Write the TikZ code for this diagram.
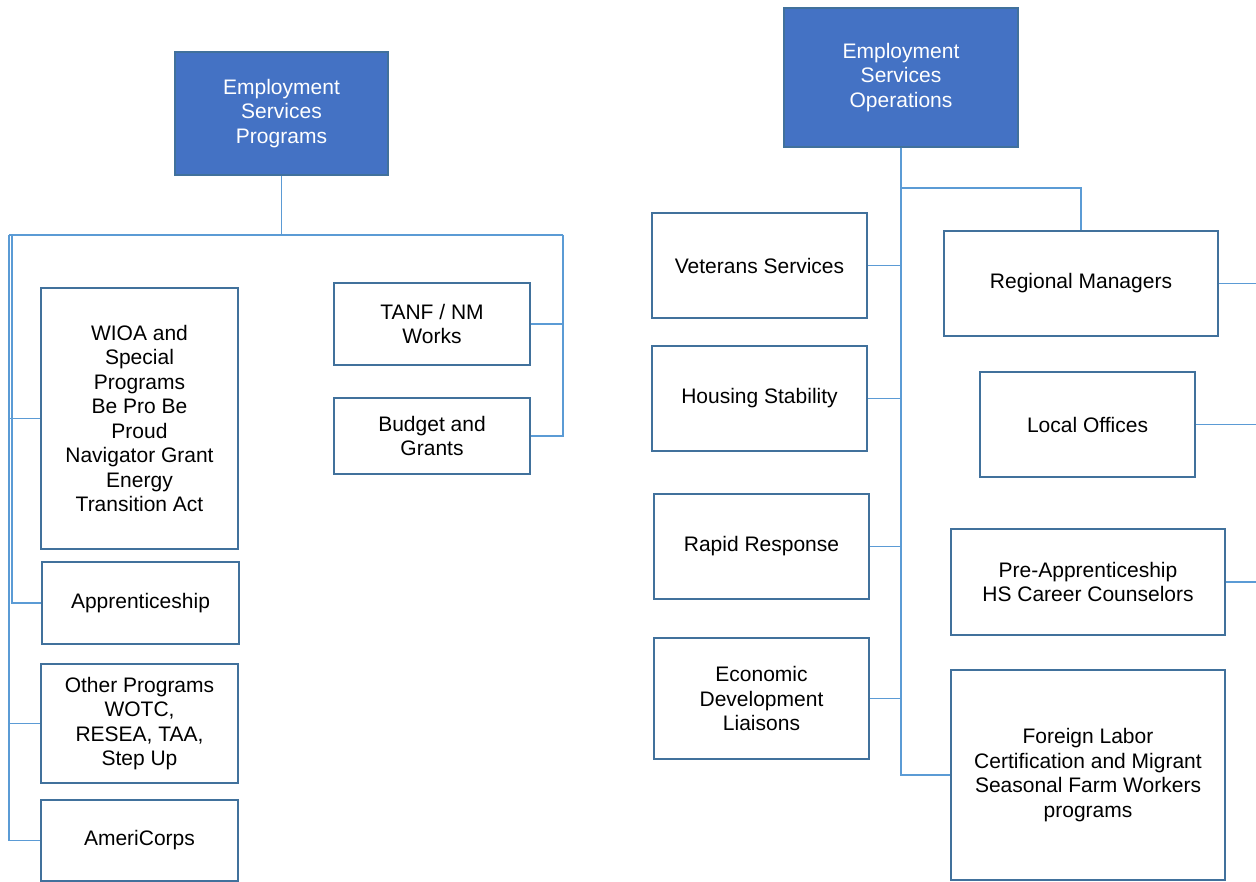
\documentclass[tikz,border=0pt]{standalone}
\usepackage{fontspec}
\setmainfont{Liberation Sans}
\usepackage{xcolor}
\usepackage{tikz}
\usetikzlibrary{positioning}

\definecolor{headblue}{HTML}{4472C4}
\definecolor{rimblue}{HTML}{41719C}
\definecolor{linkblue}{HTML}{5B9BD5}

\begin{document}
\begin{tikzpicture}[
    x=1pt, y=-1pt,
    head/.style={rectangle, draw=rimblue, fill=headblue, line width=1.5pt, text=white, align=center, inner sep=0pt, font=\fontsize{21}{24.5}\selectfont},
    unit/.style={rectangle, draw=rimblue, fill=white, line width=2.5pt, align=center, inner sep=0pt, font=\fontsize{21}{24.5}\selectfont},
    link/.style={draw=linkblue, line width=1.5pt}
    ]
    \useasboundingbox (0,0) rectangle (1256,882);

    % left side
    \node[head, minimum width=213pt, minimum height=123pt] (esp) at (281.5,113.5) {Employment\\Services\\Programs};

    \node[unit, minimum width=197pt, minimum height=261pt] (wioa) at (139.5,418.5) {WIOA and\\Special\\Programs\\Be Pro Be\\Proud\\Navigator Grant\\Energy\\Transition Act};
    \node[unit, minimum width=197pt, minimum height=82pt] (appr) at (140.5,603) {Apprenticeship};
    \node[unit, minimum width=197pt, minimum height=119pt] (other) at (139.5,723.5) {Other Programs\\WOTC,\\RESEA, TAA,\\Step Up};
    \node[unit, minimum width=197pt, minimum height=81pt] (ameri) at (139.5,840.5) {AmeriCorps};

    \node[unit, minimum width=196pt, minimum height=82pt] (tanf) at (432,324) {TANF / NM\\Works};
    \node[unit, minimum width=196pt, minimum height=76pt] (budget) at (432,436) {Budget and\\Grants};

    \coordinate (lspine) at (9,235);
    \coordinate (rspine) at (563,235);
    \draw[link] (esp.south) |- (lspine);
    \draw[link] (esp.south) |- (rspine);
    \draw[link] (lspine) |- (wioa.west);
    \draw[link] (lspine) |- (other.west);
    \draw[link] (lspine) |- (ameri.west);
    \draw[link] (lspine) ++(3,0) |- (appr.west);
    \draw[link] (rspine) |- (tanf.east);
    \draw[link] (rspine) |- (budget.east);

    % right side
    \node[head, minimum width=234pt, minimum height=139pt] (eso) at (901,77.5) {Employment\\Services\\Operations};

    \node[unit, minimum width=215pt, minimum height=105pt] (vet) at (759.5,265.5) {Veterans Services};
    \node[unit, minimum width=215pt, minimum height=105pt] (house) at (759.5,398.5) {Housing Stability};
    \node[unit, minimum width=215pt, minimum height=105pt] (rapid) at (761.5,546.5) {Rapid Response};
    \node[unit, minimum width=215pt, minimum height=121pt] (econ) at (761.5,698.5) {Economic\\Development\\Liaisons};

    \node[unit, minimum width=274pt, minimum height=105pt] (region) at (1081,283.5) {Regional Managers};
    \node[unit, minimum width=215pt, minimum height=105pt] (local) at (1087.5,424.5) {Local Offices};
    \node[unit, minimum width=274pt, minimum height=106pt] (preapp) at (1088,582) {Pre-Apprenticeship\\HS Career Counselors};
    \node[unit, minimum width=274pt, minimum height=210pt] (foreign) at (1088,775) {Foreign Labor\\Certification and Migrant\\Seasonal Farm Workers\\programs};

    \coordinate (rmtop) at (901,188);
    \coordinate (rim) at (1256,0);
    \draw[link] (eso.south) |- (vet.east);
    \draw[link] (eso.south) |- (house.east);
    \draw[link] (eso.south) |- (rapid.east);
    \draw[link] (eso.south) |- (econ.east);
    \draw[link] (eso.south) |- (foreign.west);
    \draw[link] (rmtop) -| (region.north);
    \draw[link] (region.east) -- (region.east -| rim);
    \draw[link] (local.east) -- (local.east -| rim);
    \draw[link] (preapp.east) -- (preapp.east -| rim);
  \end{tikzpicture}
\end{document}
